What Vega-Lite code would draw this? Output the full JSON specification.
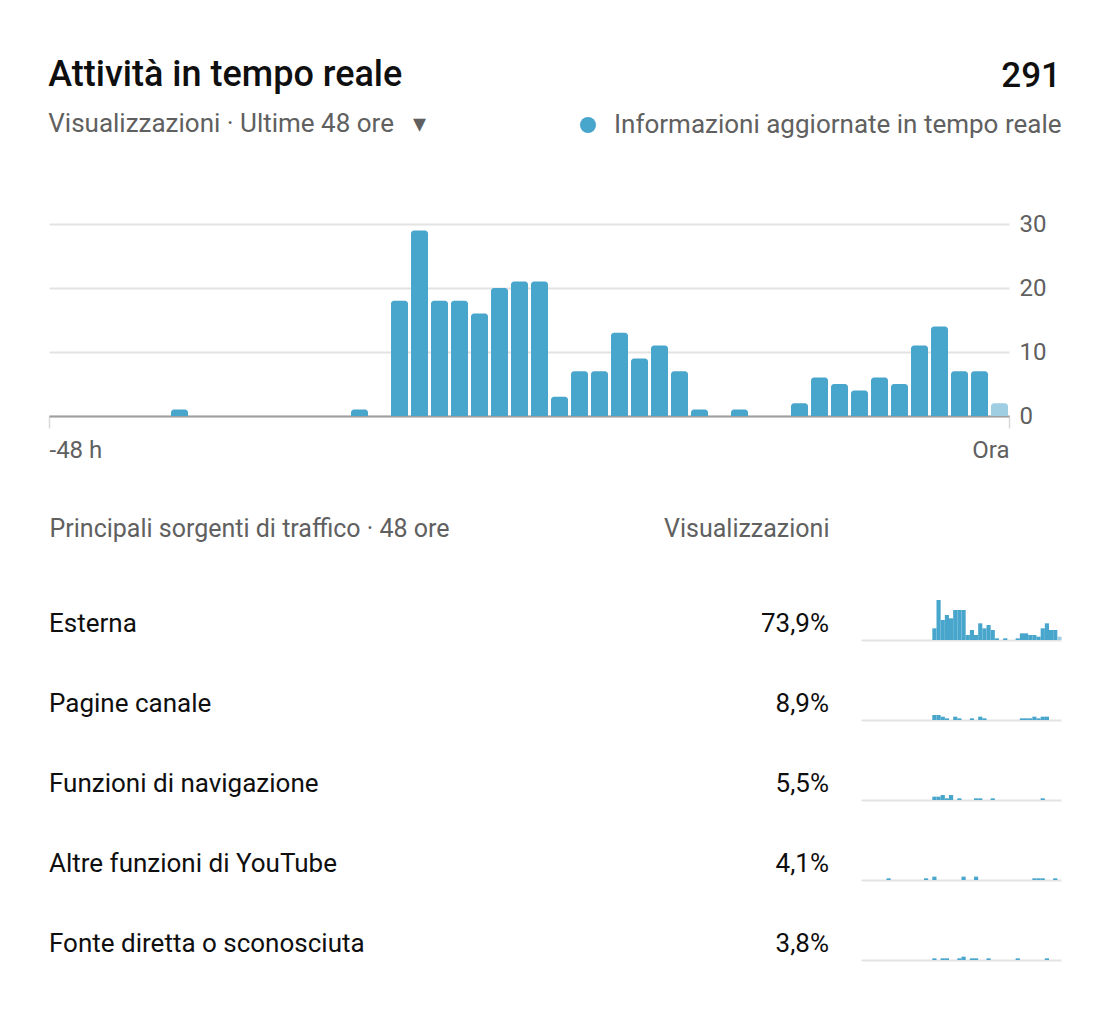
{
  "$schema": "https://vega.github.io/schema/vega-lite/v6.json",
  "background": "white",
  "padding": {"left": 48, "top": 57, "right": 40, "bottom": 40},
  "title": {
    "text": "Attività in tempo reale",
    "subtitle": "Visualizzazioni · Ultime 48 ore\u00a0\u00a0\u00a0▾",
    "anchor": "start",
    "baseline": "top",
    "offset": -79,
    "font": "Roboto",
    "fontSize": 36,
    "fontWeight": 500,
    "color": "#0f0f0f",
    "subtitleFont": "Roboto",
    "subtitleFontSize": 26,
    "subtitleColor": "#606060",
    "subtitlePadding": 17
  },
  "datasets": {
    "attivita": [
      {"inizio": -42, "fine": -41, "visualizzazioni": 1, "stato": "Informazioni aggiornate in tempo reale"},
      {"inizio": -33, "fine": -32, "visualizzazioni": 1, "stato": "Informazioni aggiornate in tempo reale"},
      {"inizio": -31, "fine": -30, "visualizzazioni": 18, "stato": "Informazioni aggiornate in tempo reale"},
      {"inizio": -30, "fine": -29, "visualizzazioni": 29, "stato": "Informazioni aggiornate in tempo reale"},
      {"inizio": -29, "fine": -28, "visualizzazioni": 18, "stato": "Informazioni aggiornate in tempo reale"},
      {"inizio": -28, "fine": -27, "visualizzazioni": 18, "stato": "Informazioni aggiornate in tempo reale"},
      {"inizio": -27, "fine": -26, "visualizzazioni": 16, "stato": "Informazioni aggiornate in tempo reale"},
      {"inizio": -26, "fine": -25, "visualizzazioni": 20, "stato": "Informazioni aggiornate in tempo reale"},
      {"inizio": -25, "fine": -24, "visualizzazioni": 21, "stato": "Informazioni aggiornate in tempo reale"},
      {"inizio": -24, "fine": -23, "visualizzazioni": 21, "stato": "Informazioni aggiornate in tempo reale"},
      {"inizio": -23, "fine": -22, "visualizzazioni": 3, "stato": "Informazioni aggiornate in tempo reale"},
      {"inizio": -22, "fine": -21, "visualizzazioni": 7, "stato": "Informazioni aggiornate in tempo reale"},
      {"inizio": -21, "fine": -20, "visualizzazioni": 7, "stato": "Informazioni aggiornate in tempo reale"},
      {"inizio": -20, "fine": -19, "visualizzazioni": 13, "stato": "Informazioni aggiornate in tempo reale"},
      {"inizio": -19, "fine": -18, "visualizzazioni": 9, "stato": "Informazioni aggiornate in tempo reale"},
      {"inizio": -18, "fine": -17, "visualizzazioni": 11, "stato": "Informazioni aggiornate in tempo reale"},
      {"inizio": -17, "fine": -16, "visualizzazioni": 7, "stato": "Informazioni aggiornate in tempo reale"},
      {"inizio": -16, "fine": -15, "visualizzazioni": 1, "stato": "Informazioni aggiornate in tempo reale"},
      {"inizio": -14, "fine": -13, "visualizzazioni": 1, "stato": "Informazioni aggiornate in tempo reale"},
      {"inizio": -11, "fine": -10, "visualizzazioni": 2, "stato": "Informazioni aggiornate in tempo reale"},
      {"inizio": -10, "fine": -9, "visualizzazioni": 6, "stato": "Informazioni aggiornate in tempo reale"},
      {"inizio": -9, "fine": -8, "visualizzazioni": 5, "stato": "Informazioni aggiornate in tempo reale"},
      {"inizio": -8, "fine": -7, "visualizzazioni": 4, "stato": "Informazioni aggiornate in tempo reale"},
      {"inizio": -7, "fine": -6, "visualizzazioni": 6, "stato": "Informazioni aggiornate in tempo reale"},
      {"inizio": -6, "fine": -5, "visualizzazioni": 5, "stato": "Informazioni aggiornate in tempo reale"},
      {"inizio": -5, "fine": -4, "visualizzazioni": 11, "stato": "Informazioni aggiornate in tempo reale"},
      {"inizio": -4, "fine": -3, "visualizzazioni": 14, "stato": "Informazioni aggiornate in tempo reale"},
      {"inizio": -3, "fine": -2, "visualizzazioni": 7, "stato": "Informazioni aggiornate in tempo reale"},
      {"inizio": -2, "fine": -1, "visualizzazioni": 7, "stato": "Informazioni aggiornate in tempo reale"},
      {"inizio": -1, "fine": 0, "visualizzazioni": 2, "stato": "Ora in corso"}
    ],
    "fonti": [
      {"fonte": "Esterna", "quota": 0.739},
      {"fonte": "Pagine canale", "quota": 0.089},
      {"fonte": "Funzioni di navigazione", "quota": 0.055},
      {"fonte": "Altre funzioni di YouTube", "quota": 0.041},
      {"fonte": "Fonte diretta o sconosciuta", "quota": 0.038}
    ],
    "sparkline": [
      {"fonte": "Esterna", "inizio": -31, "fine": -30, "visualizzazioni": 7, "stato": "Informazioni aggiornate in tempo reale"},
      {"fonte": "Esterna", "inizio": -30, "fine": -29, "visualizzazioni": 24, "stato": "Informazioni aggiornate in tempo reale"},
      {"fonte": "Esterna", "inizio": -29, "fine": -28, "visualizzazioni": 12, "stato": "Informazioni aggiornate in tempo reale"},
      {"fonte": "Esterna", "inizio": -28, "fine": -27, "visualizzazioni": 15, "stato": "Informazioni aggiornate in tempo reale"},
      {"fonte": "Esterna", "inizio": -27, "fine": -26, "visualizzazioni": 13, "stato": "Informazioni aggiornate in tempo reale"},
      {"fonte": "Esterna", "inizio": -26, "fine": -25, "visualizzazioni": 18, "stato": "Informazioni aggiornate in tempo reale"},
      {"fonte": "Esterna", "inizio": -25, "fine": -24, "visualizzazioni": 18, "stato": "Informazioni aggiornate in tempo reale"},
      {"fonte": "Esterna", "inizio": -24, "fine": -23, "visualizzazioni": 18, "stato": "Informazioni aggiornate in tempo reale"},
      {"fonte": "Esterna", "inizio": -23, "fine": -22, "visualizzazioni": 3, "stato": "Informazioni aggiornate in tempo reale"},
      {"fonte": "Esterna", "inizio": -22, "fine": -21, "visualizzazioni": 6, "stato": "Informazioni aggiornate in tempo reale"},
      {"fonte": "Esterna", "inizio": -21, "fine": -20, "visualizzazioni": 3, "stato": "Informazioni aggiornate in tempo reale"},
      {"fonte": "Esterna", "inizio": -20, "fine": -19, "visualizzazioni": 10, "stato": "Informazioni aggiornate in tempo reale"},
      {"fonte": "Esterna", "inizio": -19, "fine": -18, "visualizzazioni": 7, "stato": "Informazioni aggiornate in tempo reale"},
      {"fonte": "Esterna", "inizio": -18, "fine": -17, "visualizzazioni": 9, "stato": "Informazioni aggiornate in tempo reale"},
      {"fonte": "Esterna", "inizio": -17, "fine": -16, "visualizzazioni": 6, "stato": "Informazioni aggiornate in tempo reale"},
      {"fonte": "Esterna", "inizio": -16, "fine": -15, "visualizzazioni": 1, "stato": "Informazioni aggiornate in tempo reale"},
      {"fonte": "Esterna", "inizio": -14, "fine": -13, "visualizzazioni": 1, "stato": "Informazioni aggiornate in tempo reale"},
      {"fonte": "Esterna", "inizio": -11, "fine": -10, "visualizzazioni": 1, "stato": "Informazioni aggiornate in tempo reale"},
      {"fonte": "Esterna", "inizio": -10, "fine": -9, "visualizzazioni": 4, "stato": "Informazioni aggiornate in tempo reale"},
      {"fonte": "Esterna", "inizio": -9, "fine": -8, "visualizzazioni": 4, "stato": "Informazioni aggiornate in tempo reale"},
      {"fonte": "Esterna", "inizio": -8, "fine": -7, "visualizzazioni": 3, "stato": "Informazioni aggiornate in tempo reale"},
      {"fonte": "Esterna", "inizio": -7, "fine": -6, "visualizzazioni": 3, "stato": "Informazioni aggiornate in tempo reale"},
      {"fonte": "Esterna", "inizio": -6, "fine": -5, "visualizzazioni": 2, "stato": "Informazioni aggiornate in tempo reale"},
      {"fonte": "Esterna", "inizio": -5, "fine": -4, "visualizzazioni": 7, "stato": "Informazioni aggiornate in tempo reale"},
      {"fonte": "Esterna", "inizio": -4, "fine": -3, "visualizzazioni": 10, "stato": "Informazioni aggiornate in tempo reale"},
      {"fonte": "Esterna", "inizio": -3, "fine": -2, "visualizzazioni": 6, "stato": "Informazioni aggiornate in tempo reale"},
      {"fonte": "Esterna", "inizio": -2, "fine": -1, "visualizzazioni": 6, "stato": "Informazioni aggiornate in tempo reale"},
      {"fonte": "Esterna", "inizio": -1, "fine": 0, "visualizzazioni": 2, "stato": "Ora in corso"},
      {"fonte": "Pagine canale", "inizio": -31, "fine": -30, "visualizzazioni": 3, "stato": "Informazioni aggiornate in tempo reale"},
      {"fonte": "Pagine canale", "inizio": -30, "fine": -29, "visualizzazioni": 3, "stato": "Informazioni aggiornate in tempo reale"},
      {"fonte": "Pagine canale", "inizio": -29, "fine": -28, "visualizzazioni": 2, "stato": "Informazioni aggiornate in tempo reale"},
      {"fonte": "Pagine canale", "inizio": -28, "fine": -27, "visualizzazioni": 1, "stato": "Informazioni aggiornate in tempo reale"},
      {"fonte": "Pagine canale", "inizio": -26, "fine": -25, "visualizzazioni": 2, "stato": "Informazioni aggiornate in tempo reale"},
      {"fonte": "Pagine canale", "inizio": -25, "fine": -24, "visualizzazioni": 1, "stato": "Informazioni aggiornate in tempo reale"},
      {"fonte": "Pagine canale", "inizio": -22, "fine": -21, "visualizzazioni": 1, "stato": "Informazioni aggiornate in tempo reale"},
      {"fonte": "Pagine canale", "inizio": -20, "fine": -19, "visualizzazioni": 2, "stato": "Informazioni aggiornate in tempo reale"},
      {"fonte": "Pagine canale", "inizio": -19, "fine": -18, "visualizzazioni": 1, "stato": "Informazioni aggiornate in tempo reale"},
      {"fonte": "Pagine canale", "inizio": -10, "fine": -9, "visualizzazioni": 1, "stato": "Informazioni aggiornate in tempo reale"},
      {"fonte": "Pagine canale", "inizio": -9, "fine": -8, "visualizzazioni": 1, "stato": "Informazioni aggiornate in tempo reale"},
      {"fonte": "Pagine canale", "inizio": -8, "fine": -7, "visualizzazioni": 1, "stato": "Informazioni aggiornate in tempo reale"},
      {"fonte": "Pagine canale", "inizio": -7, "fine": -6, "visualizzazioni": 2, "stato": "Informazioni aggiornate in tempo reale"},
      {"fonte": "Pagine canale", "inizio": -6, "fine": -5, "visualizzazioni": 1, "stato": "Informazioni aggiornate in tempo reale"},
      {"fonte": "Pagine canale", "inizio": -5, "fine": -4, "visualizzazioni": 2, "stato": "Informazioni aggiornate in tempo reale"},
      {"fonte": "Pagine canale", "inizio": -4, "fine": -3, "visualizzazioni": 2, "stato": "Informazioni aggiornate in tempo reale"},
      {"fonte": "Funzioni di navigazione", "inizio": -31, "fine": -30, "visualizzazioni": 2, "stato": "Informazioni aggiornate in tempo reale"},
      {"fonte": "Funzioni di navigazione", "inizio": -30, "fine": -29, "visualizzazioni": 2, "stato": "Informazioni aggiornate in tempo reale"},
      {"fonte": "Funzioni di navigazione", "inizio": -29, "fine": -28, "visualizzazioni": 3, "stato": "Informazioni aggiornate in tempo reale"},
      {"fonte": "Funzioni di navigazione", "inizio": -28, "fine": -27, "visualizzazioni": 1, "stato": "Informazioni aggiornate in tempo reale"},
      {"fonte": "Funzioni di navigazione", "inizio": -27, "fine": -26, "visualizzazioni": 3, "stato": "Informazioni aggiornate in tempo reale"},
      {"fonte": "Funzioni di navigazione", "inizio": -25, "fine": -24, "visualizzazioni": 1, "stato": "Informazioni aggiornate in tempo reale"},
      {"fonte": "Funzioni di navigazione", "inizio": -21, "fine": -20, "visualizzazioni": 1, "stato": "Informazioni aggiornate in tempo reale"},
      {"fonte": "Funzioni di navigazione", "inizio": -20, "fine": -19, "visualizzazioni": 1, "stato": "Informazioni aggiornate in tempo reale"},
      {"fonte": "Funzioni di navigazione", "inizio": -17, "fine": -16, "visualizzazioni": 1, "stato": "Informazioni aggiornate in tempo reale"},
      {"fonte": "Funzioni di navigazione", "inizio": -5, "fine": -4, "visualizzazioni": 1, "stato": "Informazioni aggiornate in tempo reale"},
      {"fonte": "Altre funzioni di YouTube", "inizio": -42, "fine": -41, "visualizzazioni": 1, "stato": "Informazioni aggiornate in tempo reale"},
      {"fonte": "Altre funzioni di YouTube", "inizio": -33, "fine": -32, "visualizzazioni": 1, "stato": "Informazioni aggiornate in tempo reale"},
      {"fonte": "Altre funzioni di YouTube", "inizio": -31, "fine": -30, "visualizzazioni": 2, "stato": "Informazioni aggiornate in tempo reale"},
      {"fonte": "Altre funzioni di YouTube", "inizio": -24, "fine": -23, "visualizzazioni": 2, "stato": "Informazioni aggiornate in tempo reale"},
      {"fonte": "Altre funzioni di YouTube", "inizio": -21, "fine": -20, "visualizzazioni": 2, "stato": "Informazioni aggiornate in tempo reale"},
      {"fonte": "Altre funzioni di YouTube", "inizio": -7, "fine": -6, "visualizzazioni": 1, "stato": "Informazioni aggiornate in tempo reale"},
      {"fonte": "Altre funzioni di YouTube", "inizio": -6, "fine": -5, "visualizzazioni": 1, "stato": "Informazioni aggiornate in tempo reale"},
      {"fonte": "Altre funzioni di YouTube", "inizio": -5, "fine": -4, "visualizzazioni": 1, "stato": "Informazioni aggiornate in tempo reale"},
      {"fonte": "Altre funzioni di YouTube", "inizio": -2, "fine": -1, "visualizzazioni": 1, "stato": "Informazioni aggiornate in tempo reale"},
      {"fonte": "Fonte diretta o sconosciuta", "inizio": -31, "fine": -30, "visualizzazioni": 1, "stato": "Informazioni aggiornate in tempo reale"},
      {"fonte": "Fonte diretta o sconosciuta", "inizio": -29, "fine": -28, "visualizzazioni": 1, "stato": "Informazioni aggiornate in tempo reale"},
      {"fonte": "Fonte diretta o sconosciuta", "inizio": -28, "fine": -27, "visualizzazioni": 1, "stato": "Informazioni aggiornate in tempo reale"},
      {"fonte": "Fonte diretta o sconosciuta", "inizio": -25, "fine": -24, "visualizzazioni": 1, "stato": "Informazioni aggiornate in tempo reale"},
      {"fonte": "Fonte diretta o sconosciuta", "inizio": -24, "fine": -23, "visualizzazioni": 2, "stato": "Informazioni aggiornate in tempo reale"},
      {"fonte": "Fonte diretta o sconosciuta", "inizio": -22, "fine": -21, "visualizzazioni": 1, "stato": "Informazioni aggiornate in tempo reale"},
      {"fonte": "Fonte diretta o sconosciuta", "inizio": -21, "fine": -20, "visualizzazioni": 1, "stato": "Informazioni aggiornate in tempo reale"},
      {"fonte": "Fonte diretta o sconosciuta", "inizio": -18, "fine": -17, "visualizzazioni": 1, "stato": "Informazioni aggiornate in tempo reale"},
      {"fonte": "Fonte diretta o sconosciuta", "inizio": -11, "fine": -10, "visualizzazioni": 1, "stato": "Informazioni aggiornate in tempo reale"},
      {"fonte": "Fonte diretta o sconosciuta", "inizio": -4, "fine": -3, "visualizzazioni": 1, "stato": "Informazioni aggiornate in tempo reale"}
    ]
  },
  "vconcat": [
    {
      "data": {"name": "attivita"},
      "width": 960,
      "height": 192,
      "mark": {"type": "bar", "binSpacing": 3, "cornerRadiusTopLeft": 3, "cornerRadiusTopRight": 3},
      "encoding": {
        "x": {
          "field": "inizio",
          "type": "quantitative",
          "bin": {"binned": true, "step": 1},
          "scale": {"domain": [-48, 0], "nice": false, "zero": false},
          "axis": {
            "values": [-48, 0],
            "labelExpr": "datum.value == 0 ? 'Ora' : '-48 h'",
            "labelFlush": true,
            "grid": false,
            "domain": true,
            "domainColor": "#9e9e9e",
            "domainWidth": 2,
            "ticks": true,
            "tickSize": 12,
            "tickColor": "#d9d9d9",
            "tickWidth": 1.5,
            "labelPadding": 10,
            "labelFont": "Roboto",
            "labelFontSize": 24,
            "labelColor": "#606060",
            "title": null
          }
        },
        "x2": {"field": "fine"},
        "y": {
          "field": "visualizzazioni",
          "type": "quantitative",
          "stack": null,
          "scale": {"domain": [0, 30], "nice": false},
          "axis": {
            "orient": "right",
            "values": [0, 10, 20, 30],
            "grid": true,
            "gridColor": "#e3e3e3",
            "gridWidth": 2,
            "domain": false,
            "ticks": false,
            "labelPadding": 10,
            "labelFont": "Roboto",
            "labelFontSize": 24,
            "labelColor": "#606060",
            "title": null
          }
        },
        "color": {
          "field": "stato",
          "type": "nominal",
          "scale": {"domain": ["Informazioni aggiornate in tempo reale", "Ora in corso"], "range": ["#48a5cc", "#9fcde2"]},
          "legend": {
            "orient": "none",
            "legendX": 526,
            "legendY": -165,
            "values": ["Informazioni aggiornate in tempo reale"],
            "title": "291",
            "titleAnchor": "end",
            "titleFont": "Roboto",
            "titleFontSize": 35,
            "titleFontWeight": 500,
            "titleColor": "#0f0f0f",
            "titleBaseline": "top",
            "titlePadding": 18,
            "symbolType": "circle",
            "symbolSize": 256,
            "symbolStrokeWidth": 0,
            "labelOffset": 13,
            "labelFont": "Roboto",
            "labelFontSize": 26,
            "labelColor": "#606060",
            "labelLimit": 600,
            "padding": 0
          }
        }
      }
    },
    {
      "hconcat": [
        {
          "data": {"name": "fonti"},
          "width": 780,
          "height": 400,
          "encoding": {
            "y": {
              "field": "fonte",
              "type": "nominal",
              "sort": ["Esterna", "Pagine canale", "Funzioni di navigazione", "Altre funzioni di YouTube", "Fonte diretta o sconosciuta"],
              "scale": {"paddingInner": 0, "paddingOuter": 0},
              "axis": null
            }
          },
          "layer": [
            {
              "mark": {"type": "text", "align": "left", "baseline": "middle", "dy": -16, "font": "Roboto", "fontSize": 26, "color": "#0f0f0f"},
              "encoding": {
                "x": {
                  "datum": "Principali sorgenti di traffico · 48 ore",
                  "type": "nominal",
                  "scale": {"type": "point", "padding": 0, "domain": ["Principali sorgenti di traffico · 48 ore", "Visualizzazioni"]},
                  "axis": {"orient": "top", "labelFlush": true, "labelAngle": 0, "domain": false, "ticks": false, "tickSize": 0, "grid": false, "labelPadding": 59, "labelFont": "Roboto", "labelFontSize": 25, "labelColor": "#606060", "labelLimit": 600, "title": null}
                },
                "text": {"field": "fonte", "type": "nominal"}
              }
            },
            {
              "mark": {"type": "text", "align": "right", "baseline": "middle", "dy": -16, "font": "Roboto", "fontSize": 26, "color": "#0f0f0f"},
              "encoding": {
                "x": {
                  "datum": "Visualizzazioni",
                  "type": "nominal",
                  "scale": {"type": "point", "padding": 0, "domain": ["Principali sorgenti di traffico · 48 ore", "Visualizzazioni"]},
                  "axis": {"orient": "top", "labelFlush": true, "labelAngle": 0, "domain": false, "ticks": false, "tickSize": 0, "grid": false, "labelPadding": 59, "labelFont": "Roboto", "labelFontSize": 25, "labelColor": "#606060", "labelLimit": 600, "title": null}
                },
                "text": {"field": "quota", "type": "quantitative", "format": ".1%"}
              }
            }
          ]
        },
        {
          "data": {"name": "sparkline"},
          "facet": {
            "row": {
              "field": "fonte",
              "type": "nominal",
              "sort": ["Esterna", "Pagine canale", "Funzioni di navigazione", "Altre funzioni di YouTube", "Fonte diretta o sconosciuta"],
              "header": null
            }
          },
          "spacing": {"row": 40},
          "bounds": "flush",
          "spec": {
            "width": 200,
            "height": 40,
            "mark": {"type": "bar", "binSpacing": 0},
            "encoding": {
              "x": {
                "field": "inizio",
                "type": "quantitative",
                "bin": {"binned": true, "step": 1},
                "scale": {"domain": [-48, 0], "nice": false, "zero": false},
                "axis": null
              },
              "x2": {"field": "fine"},
              "y": {
                "field": "visualizzazioni",
                "type": "quantitative",
                "stack": null,
                "scale": {"domain": [0, 24], "nice": false},
                "axis": {"values": [0], "grid": true, "gridColor": "#e3e3e3", "gridWidth": 2, "labels": false, "ticks": false, "domain": false, "title": null}
              },
              "color": {
                "field": "stato",
                "type": "nominal",
                "scale": {"domain": ["Informazioni aggiornate in tempo reale", "Ora in corso"], "range": ["#48a5cc", "#9fcde2"]},
                "legend": null
              }
            }
          }
        }
      ],
      "spacing": 32,
      "bounds": "flush"
    }
  ],
  "spacing": 184,
  "bounds": "flush",
  "resolve": {"scale": {"color": "independent"}, "legend": {"color": "independent"}},
  "config": {
    "font": "Roboto",
    "view": {"stroke": null},
    "locale": {"number": {"decimal": ",", "thousands": ".", "grouping": [3], "currency": ["€", ""]}}
  }
}
